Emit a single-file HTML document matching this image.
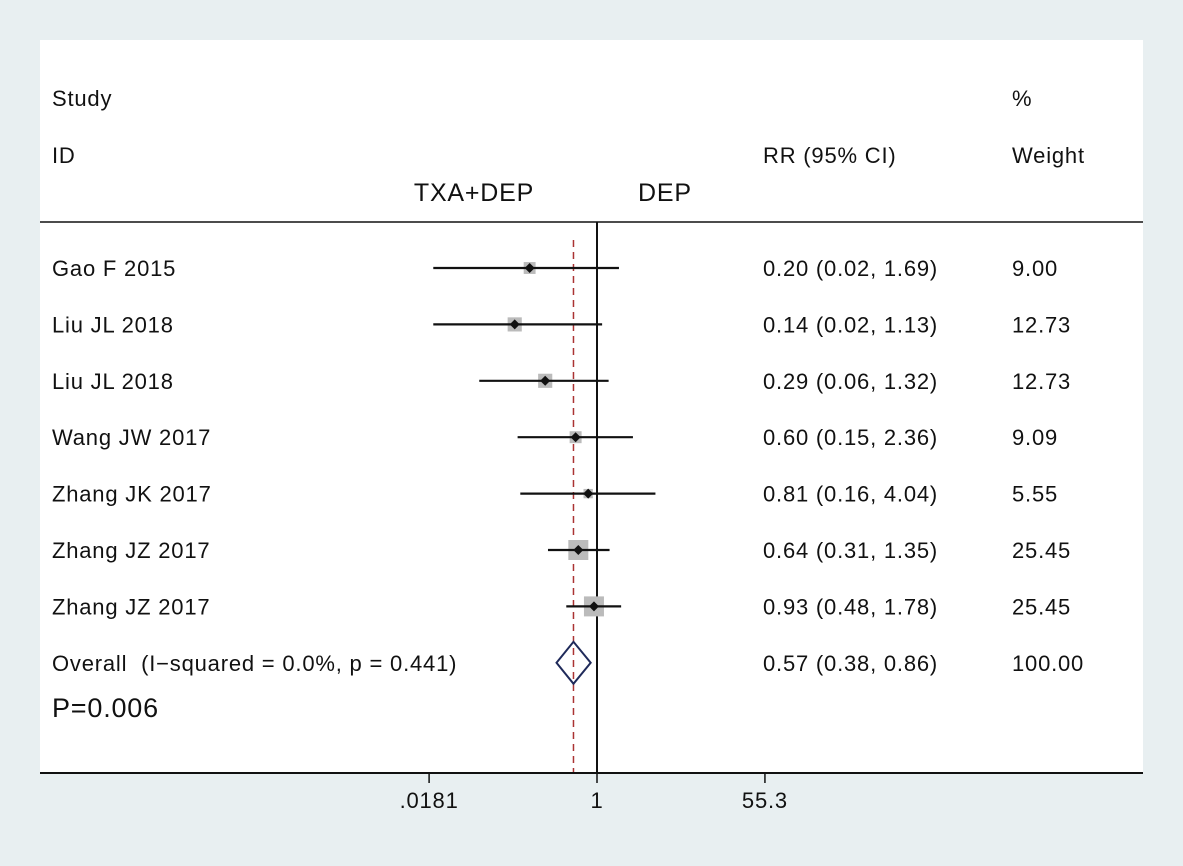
<!DOCTYPE html>
<html><head><meta charset="utf-8"><style>
html,body{margin:0;padding:0;background:#e8eff1;}
svg{display:block;font-family:"Liberation Sans",sans-serif;}
svg text{letter-spacing:0.8px;}
</style></head><body>
<svg id="chart" width="1183" height="866">
<rect x="0" y="0" width="1183" height="866" fill="#e8eff1"/>
<rect x="40" y="40" width="1103" height="733" fill="#fff"/>
<g font-size="22" fill="#111">
<text x="52" y="106">Study</text>
<text x="52" y="163">ID</text>
<text x="763" y="163">RR (95% CI)</text>
<text x="1012" y="106">%</text>
<text x="1012" y="163">Weight</text>
<text x="474" y="201" font-size="25" text-anchor="middle">TXA+DEP</text>
<text x="638" y="201" font-size="25">DEP</text>
</g>
<line x1="40" y1="222" x2="1143" y2="222" stroke="#111" stroke-width="1.5"/>
<g id="marks"></g>
<text x="52" y="717" font-size="27" fill="#111">P=0.006</text>
<line x1="40" y1="773" x2="1143" y2="773" stroke="#111" stroke-width="2"/>
<g id="ticks"></g>
</svg>
<script>
const studies=["Gao F 2015","Liu JL 2018","Liu JL 2018","Wang JW 2017","Zhang JK 2017","Zhang JZ 2017","Zhang JZ 2017"];
const rr=[0.20,0.14,0.29,0.60,0.81,0.64,0.93];
const lo=[0.02,0.02,0.06,0.15,0.16,0.31,0.48];
const hi=[1.69,1.13,1.32,2.36,4.04,1.35,1.78];
const weights=[9.00,12.73,12.73,9.09,5.55,25.45,25.45];
const overall=[0.57,0.38,0.86];
const overallLabel="Overall\u00a0 (I\u2212squared = 0.0%, p = 0.441)";
const tickVals=[0.0181,1,55.3];
const tickLabels=[".0181","1","55.3"];
const NS="http://www.w3.org/2000/svg";
const x=v=>597+41.85*Math.log(v);
const rowY=i=>268+56.4*i;
const FS=22;
const g=document.getElementById('marks');
function mk(tag,attrs,parent){const e=document.createElementNS(NS,tag);for(const k in attrs)e.setAttribute(k,attrs[k]);(parent||g).appendChild(e);return e;}
function fmt(a,b,c){return a.toFixed(2)+" ("+b.toFixed(2)+", "+c.toFixed(2)+")";}
const ov=mk('line',{x1:x(overall[0]),x2:x(overall[0]),y1:240,y2:773,stroke:'#a33',"stroke-width":1.5,"stroke-dasharray":"7,5"});


const nl=mk('line',{x1:x(1),x2:x(1),y1:222,y2:773,stroke:'#111',"stroke-width":2});


studies.forEach((s,i)=>{
 const y=rowY(i);
 const t=mk('text',{x:52,y:y+8,"font-size":FS,fill:'#111'});t.textContent=s;
 
 
 const side=20*Math.sqrt(weights[i]/25.45);
 const sq=mk('rect',{x:x(rr[i])-side/2,y:y-side/2,width:side,height:side,fill:'#bbb'});
 
 
 const ci=mk('line',{x1:x(lo[i]),x2:x(hi[i]),y1:y,y2:y,stroke:'#111',"stroke-width":2.2});
 
 
 const px=x(rr[i]);
 const d=mk('polygon',{points:`${px-5},${y} ${px},${y-5} ${px+5},${y} ${px},${y+5}`,fill:'#111'});
 
 
 const r=mk('text',{x:763,y:y+8,"font-size":FS,fill:'#111'});r.textContent=fmt(rr[i],lo[i],hi[i]);
 
 
 const w=mk('text',{x:1012,y:y+8,"font-size":FS,fill:'#111'});w.textContent=weights[i].toFixed(2);
 
 
});
const oy=rowY(7);
const ot=mk('text',{x:52,y:oy+8,"font-size":FS,fill:'#111'});ot.textContent=overallLabel;


const dm=mk('polygon',{points:`${x(overall[1])},${oy} ${x(overall[0])},${oy-21} ${x(overall[2])},${oy} ${x(overall[0])},${oy+21}`,fill:'none',stroke:'#1f2a5a',"stroke-width":2});


const orr=mk('text',{x:763,y:oy+8,"font-size":FS,fill:'#111'});orr.textContent=fmt(overall[0],overall[1],overall[2]);


const ow=mk('text',{x:1012,y:oy+8,"font-size":FS,fill:'#111'});ow.textContent="100.00";


const tg=document.getElementById('ticks');
tickVals.forEach((v,i)=>{
 const tl=mk('line',{x1:x(v),x2:x(v),y1:773,y2:783,stroke:'#111',"stroke-width":1.5},tg);
 
 
 const tt=mk('text',{x:x(v),y:808,"font-size":22,fill:'#111',"text-anchor":"middle"},tg);tt.textContent=tickLabels[i];
 
 
});
</script>
</body></html>
